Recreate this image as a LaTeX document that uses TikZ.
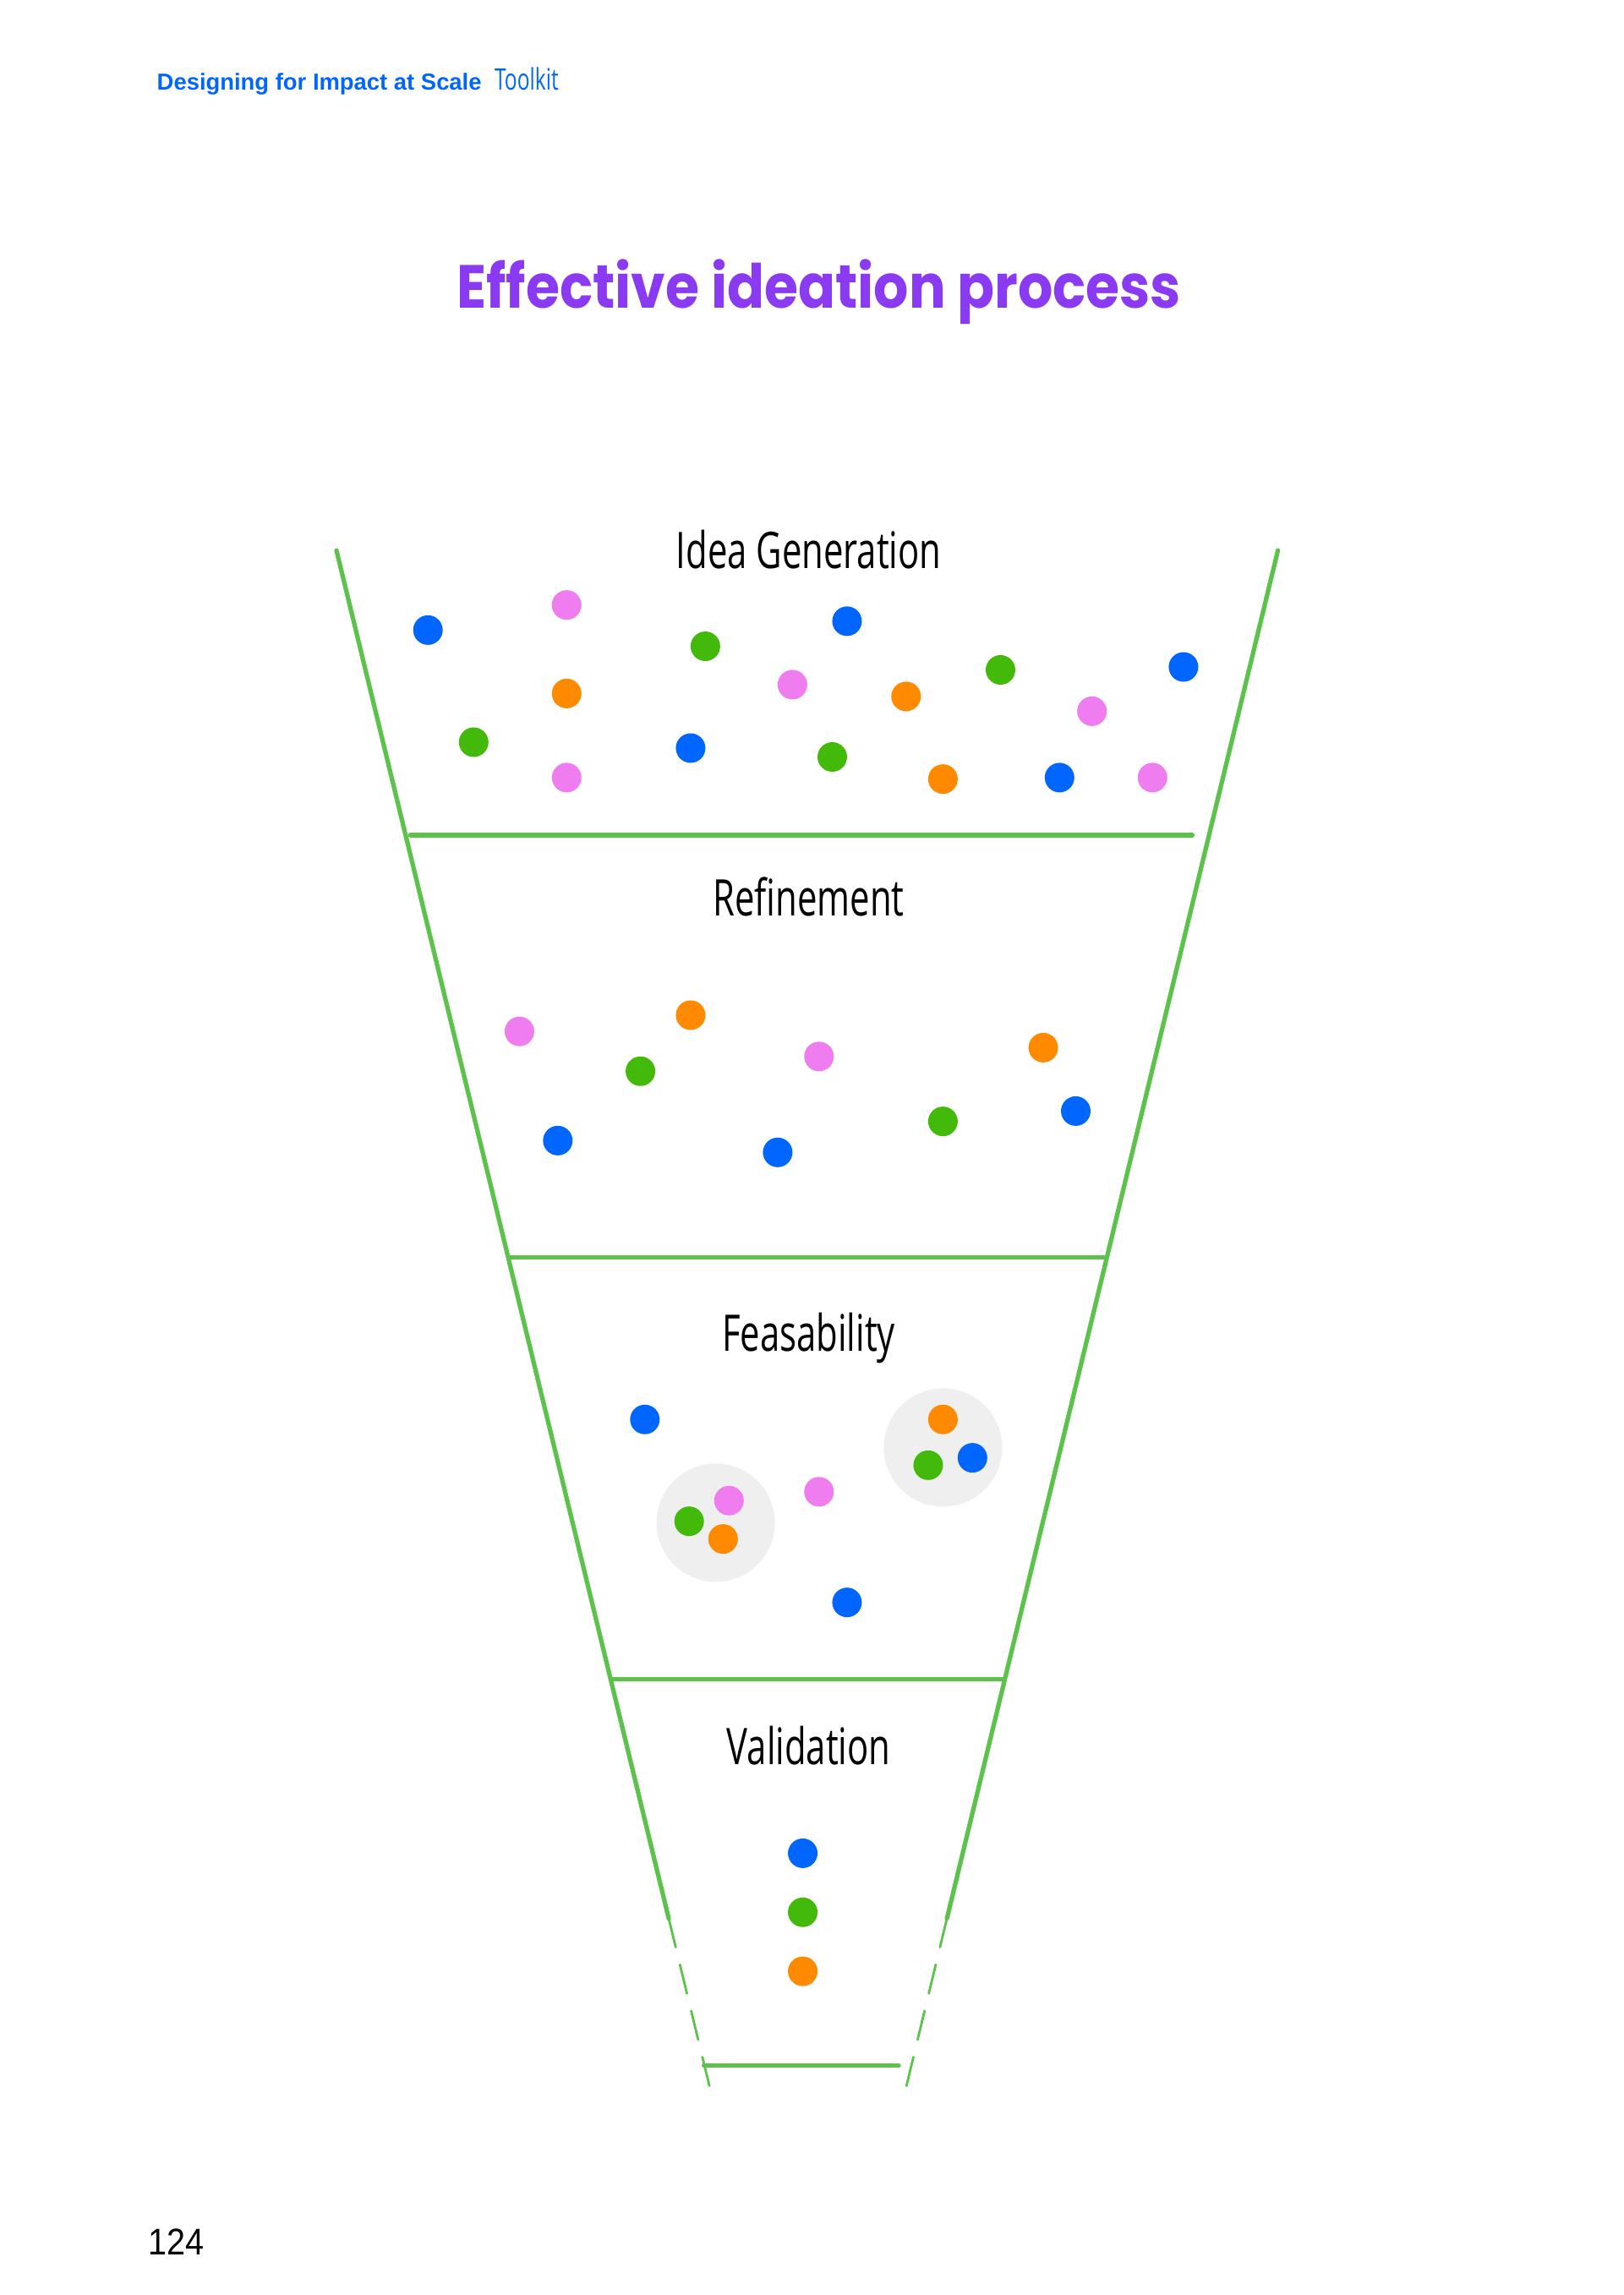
\documentclass[tikz,border=0pt]{standalone}
\usepackage{fontspec}
\setmainfont{Liberation Sans}
\newfontfamily\titlefont{Poppins}[FakeStretch=0.9]
\newfontfamily\handfont{Open Sans}[FakeStretch=0.7]
\newfontfamily\pagefont{Liberation Sans}[FakeStretch=0.9]
\usetikzlibrary{positioning,calc}

\definecolor{ideablue}{HTML}{0066FF}
\definecolor{ideagreen}{HTML}{43BA0A}
\definecolor{ideapink}{HTML}{F07DF0}
\definecolor{ideaorange}{HTML}{FF8A00}
\definecolor{funnelgreen}{HTML}{5CC24B}
\definecolor{titlepurple}{HTML}{8A3BF2}
\definecolor{clustergray}{HTML}{EFEFEF}

\tikzset{
  dot/.style={circle, fill=#1, inner sep=0pt, minimum size=0.35cm},
  cluster/.style={circle, fill=clustergray, inner sep=0pt, minimum size=1.4cm},
  wall/.style={draw=funnelgreen, line width=1.5pt, line cap=round},
  stage/.style={font=\handfont\fontsize{17}{20}\selectfont, anchor=base, inner sep=0pt},
}

\begin{document}
\begin{tikzpicture}[x=0.017455cm, y=-0.017455cm]
    \useasboundingbox (0,0) rectangle (1100,1555.4);

    % Header and title
    \node [anchor=base west, inner sep=0pt, text=ideablue, font=\bfseries\fontsize{7.8}{10}\selectfont] (head) at (106,61) {Designing for Impact at Scale};
    \node [right=4pt of head.base east, anchor=base west, inner sep=0pt, text=ideablue, font=\handfont\fontsize{10}{12}\selectfont] (tool) {Toolkit};
    \node [text=titlepurple, font=\titlefont\bfseries\fontsize{20.5}{25}\selectfont] (title) at (555,198) {Effective ideation process};

    % Funnel walls
    \coordinate (tl) at (228,373);
    \coordinate (tr) at (866,373);
    \coordinate (bl) at (483,1423);
    \coordinate (br) at (612,1423);
    \coordinate (lbreak) at ($(tl)!0.883!(bl)$);
    \coordinate (rbreak) at ($(tr)!0.883!(br)$);
    \draw [wall] (tl) -- (lbreak);
    \draw [wall] (tr) -- (rbreak);
    \draw [wall, line width=0.8pt, dash pattern=on 10pt off 6pt] (lbreak) -- (bl);
    \draw [wall, line width=0.8pt, dash pattern=on 10pt off 6pt] (rbreak) -- (br);

    % Stage dividers
    \foreach \y/\xa/\xb [count=\i] in {566/278/808, 852/346/748, 1138/414/680, 1400/477/609} {
        \coordinate (div\i w) at (\xa,\y);
        \coordinate (div\i e) at (\xb,\y);
        \draw [wall] (div\i w) -- (div\i e);
    }

    % Stage labels
    \node [stage] (gen) at (548,385) {Idea Generation};
    \node [stage] (ref) at (548,621) {Refinement};
    \node [stage] (fea) at (548,916) {Feasability};
    \node [stage] (val) at (548,1196) {Validation};

    % Idea generation
    \foreach \x/\y/\c [count=\i] in {290/427/ideablue, 384/410/ideapink, 478/438/ideagreen, 574/421/ideablue,
        537/464/ideapink, 384/470/ideaorange, 614/472/ideaorange, 678/454/ideagreen, 802/452/ideablue,
        740/482/ideapink, 321/503/ideagreen, 384/527/ideapink, 468/507/ideablue, 564/513/ideagreen,
        639/528/ideaorange, 718/527/ideablue, 781/527/ideapink} {
        \node [dot=\c] (gen\i) at (\x,\y) {};
    }

    % Refinement
    \foreach \x/\y/\c [count=\i] in {352/699/ideapink, 468/688/ideaorange, 434/726/ideagreen, 555/716/ideapink,
        707/710/ideaorange, 378/773/ideablue, 527/781/ideablue, 639/760/ideagreen, 729/753/ideablue} {
        \node [dot=\c] (ref\i) at (\x,\y) {};
    }

    % Feasability
    \node [cluster] (feaA) at (485,1032) {};
    \node [cluster] (feaB) at (639,981) {};
    \foreach \x/\y/\c [count=\i] in {437/962/ideablue, 494/1017/ideapink, 467/1031/ideagreen, 490/1043/ideaorange,
        555/1011/ideapink, 639/962/ideaorange, 629/993/ideagreen, 659/988/ideablue, 574/1086/ideablue} {
        \node [dot=\c] (fea\i) at (\x,\y) {};
    }

    % Validation
    \foreach \y/\c [count=\i] in {1256/ideablue, 1296/ideagreen, 1336/ideaorange} {
        \node [dot=\c] (val\i) at (544,\y) {};
    }

    % Page number
    \node [anchor=base west, inner sep=0pt, font=\pagefont\fontsize{12.5}{15}\selectfont] (page) at (100,1528) {124};
\end{tikzpicture}
\end{document}
